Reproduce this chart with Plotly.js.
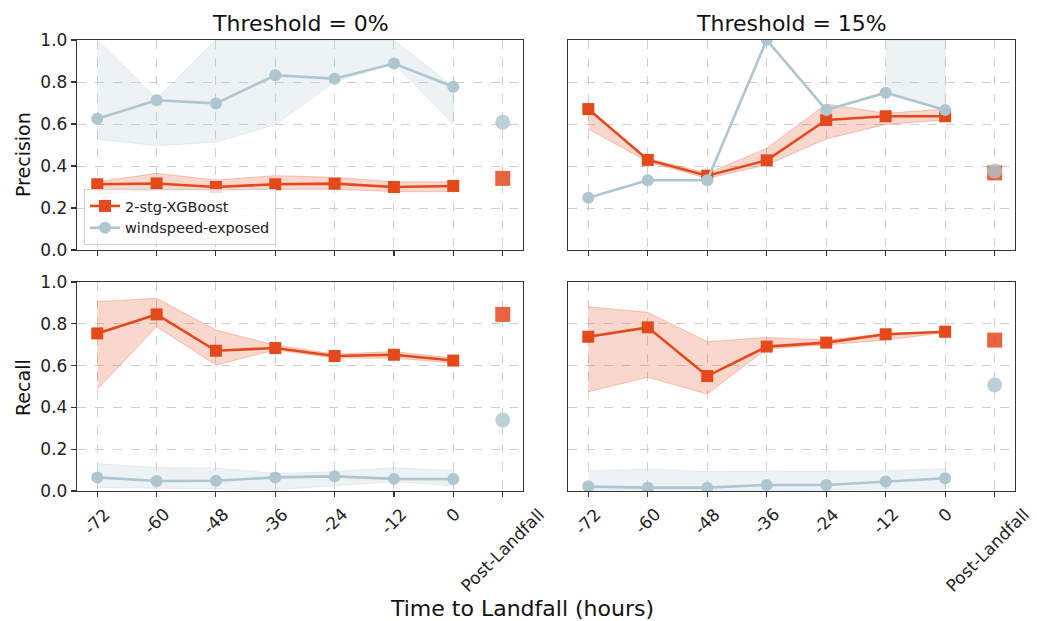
<!DOCTYPE html>
<html>
<head>
<meta charset="utf-8">
<script src="https://cdn.plot.ly/plotly-3.0.1.min.js"></script>
<style>html,body{margin:0;padding:0;background:#fff;}#chart{width:1037px;height:621px;}</style>
</head>
<body>
<div id="chart"></div>
<script>
// ---- data ----
const hours = [-72, -60, -48, -36, -24, -12, 0];
const postX = 10;
const tickVals = [-72, -60, -48, -36, -24, -12, 0, 10];
const tickText = ['-72', '-60', '-48', '-36', '-24', '-12', '0', 'Post-Landfall'];
const seriesNames = ['2-stg-XGBoost', 'windspeed-exposed'];
const panelTitles = ['Threshold = 0%', 'Threshold = 15%'];
const rowLabels = ['Precision', 'Recall'];
const xLabel = 'Time to Landfall (hours)';

// Precision, threshold 0%
const xgbPrec0 = [0.313, 0.317, 0.300, 0.313, 0.316, 0.300, 0.305];
const xgbPrec0Lo = [0.265, 0.286, 0.281, 0.289, 0.289, 0.278, 0.278];
const xgbPrec0Hi = [0.325, 0.365, 0.333, 0.354, 0.346, 0.325, 0.325];
const xgbPrec0Post = 0.341;
const windPrec0 = [0.625, 0.713, 0.698, 0.832, 0.816, 0.888, 0.777];
const windPrec0Lo = [0.527, 0.497, 0.513, 0.598, 0.800, 0.888, 0.600];
const windPrec0Hi = [1.0, 0.720, 1.0, 1.0, 1.0, 1.0, 0.777];
const windPrec0Post = 0.608;

// Precision, threshold 15%
const xgbPrec15 = [0.671, 0.429, 0.354, 0.427, 0.619, 0.637, 0.637];
const xgbPrec15Lo = [0.576, 0.420, 0.341, 0.405, 0.529, 0.598, 0.619];
const xgbPrec15Hi = [0.671, 0.437, 0.365, 0.484, 0.695, 0.651, 0.671];
const xgbPrec15Post = 0.367;
const windPrec15 = [0.249, 0.332, 0.332, 1.0, 0.667, 0.749, 0.667];
const windPrec15Lo = [null, null, null, null, null, 0.749, 0.667];
const windPrec15Hi = [null, null, null, null, null, 1.0, 1.0];
const windPrec15Post = 0.376;

// Recall, threshold 0%
const xgbRec0 = [0.754, 0.845, 0.671, 0.684, 0.646, 0.652, 0.624];
const xgbRec0Lo = [0.487, 0.786, 0.603, 0.675, 0.636, 0.636, 0.612];
const xgbRec0Hi = [0.906, 0.922, 0.770, 0.698, 0.655, 0.667, 0.636];
const xgbRec0Post = 0.845;
const windRec0 = [0.065, 0.048, 0.049, 0.065, 0.070, 0.058, 0.057];
const windRec0Lo = [0.017, 0.013, 0.010, 0.006, 0.025, 0.044, 0.025];
const windRec0Hi = [0.131, 0.112, 0.110, 0.084, 0.092, 0.112, 0.097];
const windRec0Post = 0.340;

// Recall, threshold 15%
const xgbRec15 = [0.738, 0.783, 0.550, 0.691, 0.710, 0.750, 0.762];
const xgbRec15Lo = [0.475, 0.544, 0.464, 0.680, 0.699, 0.722, 0.757];
const xgbRec15Hi = [0.882, 0.855, 0.714, 0.735, 0.722, 0.754, 0.764];
const xgbRec15Post = 0.722;
const windRec15 = [0.021, 0.016, 0.016, 0.029, 0.029, 0.045, 0.061];
const windRec15Lo = [0.004, 0.004, 0.004, 0.004, 0.004, 0.009, 0.009];
const windRec15Hi = [0.096, 0.105, 0.093, 0.093, 0.093, 0.096, 0.107];
const windRec15Post = 0.507;

// ---- styling ----
const ORANGE = '#E4491C';
const BLUE = '#ADC6D0';
const ORANGE_FILL = 'rgba(228,73,28,0.22)';
const BLUE_FILL = 'rgba(173,198,208,0.22)';
const FONT = 'DejaVu Sans, sans-serif';
const TICK_SIZE = 17;

function band(x, lo, hi, fill, edge, xa, ya) {
  const xs = [], ys = [];
  const idx = [];
  for (let i = 0; i < x.length; i++) if (lo[i] !== null && hi[i] !== null) idx.push(i);
  idx.forEach(i => { xs.push(x[i]); ys.push(hi[i]); });
  idx.slice().reverse().forEach(i => { xs.push(x[i]); ys.push(lo[i]); });
  return {x: xs, y: ys, xaxis: xa, yaxis: ya, type: 'scatter', mode: 'lines', fill: 'toself',
    fillcolor: fill, line: {color: edge, width: 1}, hoverinfo: 'skip', showlegend: false};
}

const panels = [
  {xa: 'x', ya: 'y', xgb: [xgbPrec0, xgbPrec0Lo, xgbPrec0Hi, xgbPrec0Post], wind: [windPrec0, windPrec0Lo, windPrec0Hi, windPrec0Post], legend: true},
  {xa: 'x2', ya: 'y2', xgb: [xgbPrec15, xgbPrec15Lo, xgbPrec15Hi, xgbPrec15Post], wind: [windPrec15, windPrec15Lo, windPrec15Hi, windPrec15Post], legend: false},
  {xa: 'x3', ya: 'y3', xgb: [xgbRec0, xgbRec0Lo, xgbRec0Hi, xgbRec0Post], wind: [windRec0, windRec0Lo, windRec0Hi, windRec0Post], legend: false},
  {xa: 'x4', ya: 'y4', xgb: [xgbRec15, xgbRec15Lo, xgbRec15Hi, xgbRec15Post], wind: [windRec15, windRec15Lo, windRec15Hi, windRec15Post], legend: false},
];

const traces = [];
panels.forEach(p => {
  traces.push(band(hours, p.xgb[1], p.xgb[2], ORANGE_FILL, 'rgba(228,73,28,0.28)', p.xa, p.ya));
  traces.push(band(hours, p.wind[1], p.wind[2], BLUE_FILL, 'rgba(173,198,208,0.25)', p.xa, p.ya));
  traces.push({x: hours, y: p.xgb[0], xaxis: p.xa, yaxis: p.ya, type: 'scatter', mode: 'lines+markers',
    name: seriesNames[0], legendgroup: 'xgb', showlegend: p.legend,
    line: {color: ORANGE, width: 2.6}, marker: {symbol: 'square', size: 12, color: ORANGE}});
  traces.push({x: hours, y: p.wind[0], xaxis: p.xa, yaxis: p.ya, type: 'scatter', mode: 'lines+markers',
    name: seriesNames[1], legendgroup: 'wind', showlegend: p.legend,
    line: {color: BLUE, width: 2.6}, marker: {symbol: 'circle', size: 12, color: BLUE}});
  traces.push({x: [postX], y: [p.xgb[3]], xaxis: p.xa, yaxis: p.ya, type: 'scatter', mode: 'markers',
    showlegend: false, marker: {symbol: 'square', size: 15, color: ORANGE, opacity: 0.85}});
  traces.push({x: [postX], y: [p.wind[3]], xaxis: p.xa, yaxis: p.ya, type: 'scatter', mode: 'markers',
    showlegend: false, marker: {symbol: 'circle', size: 15, color: BLUE, opacity: 0.8}});
});

const W = 1037, H = 621;
const xDomL = [77 / W, 523 / W], xDomR = [568 / W, 1015 / W];
const yDomT = [1 - 250 / H, 1 - 40 / H], yDomB = [1 - 491 / H, 1 - 282 / H];

function xaxis(domain, anchor) {
  return {domain: domain, anchor: anchor, range: [-76.1, 14.1], tickvals: tickVals, ticktext: tickText,
    showticklabels: false, ticks: 'outside', ticklen: 5, tickwidth: 1.1, tickcolor: '#333',
    showline: true, linecolor: '#333', linewidth: 1.2, mirror: true, showgrid: true, gridcolor: '#cfcfcf',
    griddash: 'dash', gridwidth: 1, zeroline: false, automargin: false,
    tickfont: {family: FONT, size: TICK_SIZE, color: '#222'}};
}
function yaxis(domain, anchor, labels) {
  return {domain: domain, anchor: anchor, range: [0, 1], tickvals: [0, 0.2, 0.4, 0.6, 0.8, 1.0],
    tickformat: '.1f', showticklabels: labels, ticks: labels ? 'outside' : '', ticklen: 5, tickwidth: 1.1,
    tickcolor: '#333', showline: true, linecolor: '#333', linewidth: 1.2, mirror: true, showgrid: true,
    gridcolor: '#cfcfcf', griddash: 'dash', gridwidth: 1, zeroline: false, automargin: false,
    tickfont: {family: FONT, size: TICK_SIZE, color: '#222'}};
}

// rotated x tick labels, centred under each tick (matplotlib style), placed via the axis scale
const tickAnns = [];
['x3', 'x4'].forEach(xa => {
  tickVals.forEach((v, i) => {
    const last = (xa === 'x4' && i === tickVals.length - 1);
    tickAnns.push({text: tickText[i], x: v, xref: xa, y: 1 - 503 / H, yref: 'paper', showarrow: false,
      textangle: -45, xanchor: last ? 'right' : 'center', xshift: last ? 40 : 0, yanchor: 'top', borderpad: 0,
      font: {family: FONT, size: TICK_SIZE, color: '#222'}});
  });
});

const layout = {
  width: W, height: H, margin: {l: 0, r: 0, t: 0, b: 0}, paper_bgcolor: '#fff', plot_bgcolor: '#fff',
  font: {family: FONT, color: '#222'},
  xaxis: xaxis(xDomL, 'y'), yaxis: yaxis(yDomT, 'x', true),
  xaxis2: xaxis(xDomR, 'y2'), yaxis2: yaxis(yDomT, 'x2', false),
  xaxis3: xaxis(xDomL, 'y3'), yaxis3: yaxis(yDomB, 'x3', true),
  xaxis4: xaxis(xDomR, 'y4'), yaxis4: yaxis(yDomB, 'x4', false),
  showlegend: true,
  legend: {x: 84 / W, y: 1 - 189 / H, xanchor: 'left', yanchor: 'top', bgcolor: 'rgba(255,255,255,0.8)',
    bordercolor: '#d0d0d0', borderwidth: 1, font: {family: FONT, size: 14.5, color: '#222'},
    tracegroupgap: 0, itemwidth: 30},
  annotations: [
    {text: panelTitles[0], x: 300 / W, y: 1 - 24 / H, xref: 'paper', yref: 'paper', showarrow: false,
      xanchor: 'center', yanchor: 'middle', font: {family: FONT, size: 22, color: '#111'}},
    {text: panelTitles[1], x: 791 / W, y: 1 - 24 / H, xref: 'paper', yref: 'paper', showarrow: false,
      xanchor: 'center', yanchor: 'middle', font: {family: FONT, size: 22, color: '#111'}},
    {text: rowLabels[0], x: 23 / W, y: 1 - 155 / H, xref: 'paper', yref: 'paper', showarrow: false,
      textangle: -90, xanchor: 'center', yanchor: 'middle', font: {family: FONT, size: 19, color: '#111'}},
    {text: rowLabels[1], x: 23 / W, y: 1 - 388 / H, xref: 'paper', yref: 'paper', showarrow: false,
      textangle: -90, xanchor: 'center', yanchor: 'middle', font: {family: FONT, size: 19, color: '#111'}},
    {text: xLabel, x: 522 / W, y: 1 - 608 / H, xref: 'paper', yref: 'paper', showarrow: false,
      xanchor: 'center', yanchor: 'middle', font: {family: FONT, size: 22, color: '#111'}}
  ].concat(tickAnns)
};

Plotly.newPlot('chart', traces, layout, {staticPlot: true, displayModeBar: false});
</script>
</body>
</html>
